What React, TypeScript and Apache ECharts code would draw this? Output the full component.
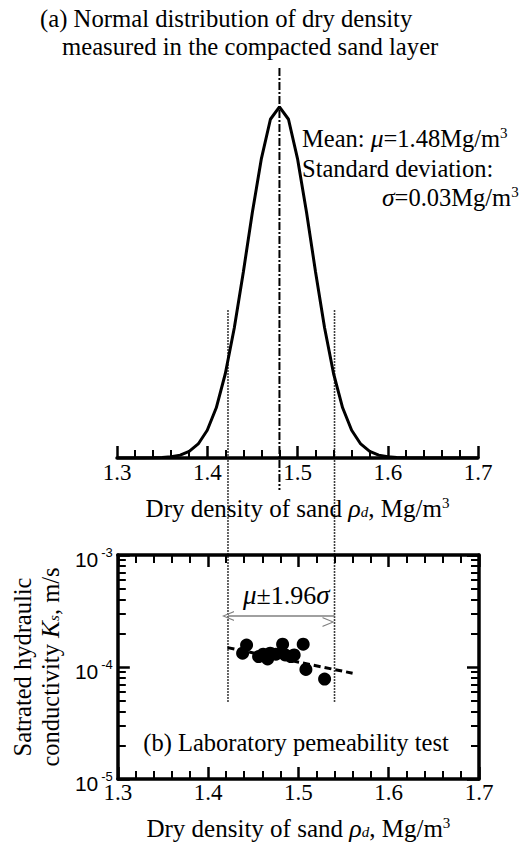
import React, { useEffect, useRef } from "react";
import * as echarts from "echarts";

// ---------- data ----------
// (a) normal distribution curve (relative density, peak = 1)
const curveX = [
  1.30, 1.31, 1.32, 1.33, 1.34, 1.35, 1.36, 1.37, 1.38, 1.39,
  1.40, 1.41, 1.42, 1.43, 1.44, 1.45, 1.46, 1.47, 1.48, 1.49,
  1.50, 1.51, 1.52, 1.53, 1.54, 1.55, 1.56, 1.57, 1.58, 1.59,
  1.60, 1.61, 1.62, 1.63, 1.64, 1.65, 1.66, 1.67, 1.68, 1.69, 1.70,
];
const curveY = [
  0, 0, 0, 0.0001, 0.0004, 0.0012, 0.0033, 0.0082, 0.019, 0.040,
  0.079, 0.143, 0.240, 0.371, 0.530, 0.700, 0.853, 0.965, 1.0, 0.965,
  0.853, 0.700, 0.530, 0.371, 0.240, 0.143, 0.079, 0.040, 0.019, 0.0082,
  0.0033, 0.0012, 0.0004, 0.0001, 0, 0, 0, 0, 0, 0, 0,
];
const MEAN = 1.48;
const meanLineY = [1.111, -0.091];
const intervalBounds = [1.422, 1.54];
const boundLineKs = [4.9e-5, 0.154];

// (b) laboratory permeability test
const testDensity = [1.4426, 1.4382, 1.4559, 1.461, 1.4659, 1.4688, 1.4751, 1.4825, 1.4854, 1.4917, 1.4953, 1.5053, 1.5083, 1.529];
const testKs = [1.57e-4, 1.33e-4, 1.24e-4, 1.3e-4, 1.18e-4, 1.33e-4, 1.3e-4, 1.6e-4, 1.28e-4, 1.24e-4, 1.28e-4, 1.6e-4, 9.5e-5, 7.8e-5];
const trendX = [1.4215, 1.56];
const trendKs = [1.49e-4, 8.8e-5];
const arrowKs = 2.85e-4;

const ksMinorTicks = [
  2e-5, 3e-5, 4e-5, 5e-5, 6e-5, 7e-5, 8e-5, 9e-5,
  2e-4, 3e-4, 4e-4, 5e-4, 6e-4, 7e-4, 8e-4, 9e-4,
];

// ---------- styles ----------
const serif = '"Liberation Serif", "Times New Roman", serif';
const sans = '"Liberation Sans", Arial, sans-serif';

const richSerif = (size: number) => ({
  t: { fontFamily: serif, fontSize: size, color: "#000" },
  i: { fontFamily: serif, fontSize: size + 1, fontStyle: "italic", color: "#000" },
  sub: { fontFamily: serif, fontSize: Math.round(size * 0.6), fontStyle: "italic", color: "#000", padding: [8, 0, 0, 0] },
  sup: { fontFamily: serif, fontSize: Math.round(size * 0.6), color: "#000", padding: [0, 0, 10, 0] },
});

const arrowPath = "path://M50,0 L100,100 L88,100 L50,22 L12,100 L0,100 Z";

export default function App() {
  const ref = useRef<HTMLDivElement>(null);
  useEffect(() => {
    if (!ref.current) return;
    const chart = echarts.init(ref.current, null, { renderer: "svg" });

    const mkLine = () => ({ show: true, onZero: false, lineStyle: { color: "#000", width: 3.5 } });
    const mkTick = () => ({ show: true, inside: true, length: 12, lineStyle: { color: "#000", width: 2.5 } });
    const xCommon = (grid: number) => ({
      gridIndex: grid,
      type: "value",
      min: 1.3,
      max: 1.7,
      interval: 0.1,
      axisLine: mkLine(),
      axisTick: mkTick(),
      minorTick: { show: true, splitNumber: 5, length: 8, lineStyle: { color: "#000", width: 2 } },
      splitLine: { show: false },
    });
    const xLabel = (margin: number) => ({
      show: true,
      margin,
      color: "#000",
      fontFamily: serif,
      fontSize: 23,
      formatter: (v: number) => v.toFixed(1),
    });
    const xName = "{t|Dry density of sand }{i|ρ}{sub|d}{t|, Mg/m}{sup|3}";

    const logCommon = (position: string) => ({
      gridIndex: 1,
      type: "log",
      logBase: 10,
      min: 1e-5,
      max: 1e-3,
      position,
      splitLine: { show: false },
    });
    const mkMinorLog = () => ({ show: true, inside: true, length: 8, customValues: ksMinorTicks, lineStyle: { color: "#000", width: 2 } });

    const option: any = {
      animation: false,
      textStyle: { fontFamily: serif },
      grid: [
        { left: 117, width: 361, top: 68, height: 390 },
        { left: 117, width: 362, top: 555, height: 224 },
      ],
      xAxis: [
        { ...xCommon(0), position: "bottom", axisLabel: xLabel(3), name: xName, nameLocation: "middle", nameGap: 37, nameTextStyle: { rich: richSerif(25) } },
        { ...xCommon(1), position: "bottom", axisLabel: xLabel(2), name: xName, nameLocation: "middle", nameGap: 36, nameTextStyle: { rich: richSerif(25) } },
        { ...xCommon(1), position: "top", axisLabel: { show: false } },
      ],
      yAxis: [
        { gridIndex: 0, type: "value", min: 0, max: meanLineY[0], show: false },
        {
          ...logCommon("left"),
          axisLine: mkLine(),
          axisTick: mkTick(),
          axisLabel: {
            show: true,
            margin: 5,
            formatter: (v: number) => `{b|10}{s|${Math.round(Math.log10(v))}}`,
            rich: {
              b: { fontFamily: sans, fontSize: 21, color: "#000", padding: [8, 0, 0, 0] },
              s: { fontFamily: sans, fontSize: 13, color: "#000", padding: [0, 0, 6, 3] },
            },
          },
          name: "{t|Satrated hydraulic}\n{t|conductivity }{i|K}{sub|s}{t|, m/s}",
          nameLocation: "middle",
          nameRotate: 90,
          nameGap: 52,
          nameTextStyle: { rich: richSerif(24.5), lineHeight: 28 },
        },
        { ...logCommon("left"), axisLine: { show: false }, axisLabel: { show: false }, axisTick: mkMinorLog() },
        { ...logCommon("right"), axisLine: mkLine(), axisLabel: { show: false }, axisTick: mkTick() },
        { ...logCommon("right"), axisLine: { show: false }, axisLabel: { show: false }, axisTick: mkMinorLog() },
      ],
      series: [
        {
          name: "distribution", type: "line", xAxisIndex: 0, yAxisIndex: 0,
          data: curveX.map((x, i) => [x, curveY[i]]),
          symbol: "none", lineStyle: { color: "#000", width: 3 }, z: 3,
        },
        {
          name: "mean", type: "line", xAxisIndex: 0, yAxisIndex: 0, clip: false,
          data: [[MEAN, meanLineY[0]], [MEAN, meanLineY[1]]],
          symbol: "none", lineStyle: { color: "#000", width: 2, type: [8, 2, 2, 2] }, z: 4,
        },
        ...intervalBounds.map((b, k) => ({
          name: "bound" + k, type: "line", xAxisIndex: 1, yAxisIndex: 1, clip: false,
          data: [[b, boundLineKs[0]], [b, boundLineKs[1]]],
          symbol: "none", lineStyle: { color: "#000", width: 1.6, type: [1.5, 1.5] }, z: 2,
        })),
        {
          name: "trend", type: "line", xAxisIndex: 1, yAxisIndex: 1,
          data: trendX.map((x, i) => [x, trendKs[i]]),
          symbol: "none", lineStyle: { color: "#000", width: 3, type: [7, 4] }, z: 3,
        },
        {
          name: "test", type: "scatter", xAxisIndex: 1, yAxisIndex: 1,
          data: testDensity.map((x, i) => [x, testKs[i]]),
          symbol: "circle", symbolSize: 13, itemStyle: { color: "#000", opacity: 1 }, z: 4,
          markLine: {
            silent: true,
            symbol: [arrowPath, arrowPath],
            symbolSize: [10, 12],
            symbolOffset: [0, 6],
            label: { show: false },
            lineStyle: { color: "#808080", type: "solid", width: 1.5 },
            data: [[{ coord: [intervalBounds[0], arrowKs] }, { coord: [intervalBounds[1], arrowKs] }]],
          },
        },
      ],
      graphic: [
        {
          type: "text", x: 40, y: 18,
          style: { text: "(a) Normal distribution of dry density", font: `24.7px ${serif}`, fill: "#000", verticalAlign: "middle" },
        },
        {
          type: "text", x: 62, y: 46,
          style: { text: "measured in the compacted sand layer", font: `24.7px ${serif}`, fill: "#000", verticalAlign: "middle" },
        },
        {
          type: "text", x: 302, y: 138,
          style: { text: "{t|Mean: }{i|μ}{t|=1.48Mg/m}{sup|3}", rich: richSerif(24.5), verticalAlign: "middle" },
        },
        {
          type: "text", x: 302, y: 168,
          style: { text: "{t|Standard deviation:}", rich: richSerif(24.5), verticalAlign: "middle" },
        },
        {
          type: "text", x: 382, y: 197,
          style: { text: "{i|σ}{t|=0.03Mg/m}{sup|3}", rich: richSerif(24.5), verticalAlign: "middle" },
        },
        {
          type: "text", x: 243, y: 595,
          style: { text: "{i|μ}{t|±1.96}{i|σ}", rich: richSerif(26), verticalAlign: "middle" },
        },
        {
          type: "text", x: 296, y: 742,
          style: { text: "(b) Laboratory pemeability test", font: `24.5px ${serif}`, fill: "#000", align: "center", verticalAlign: "middle" },
        },
      ],
    };
    chart.setOption(option);
    return () => chart.dispose();
  }, []);

  return <div ref={ref} style={{ position: "absolute", left: 0, top: 0, width: 522, height: 844, background: "#fff" }} />;
}
